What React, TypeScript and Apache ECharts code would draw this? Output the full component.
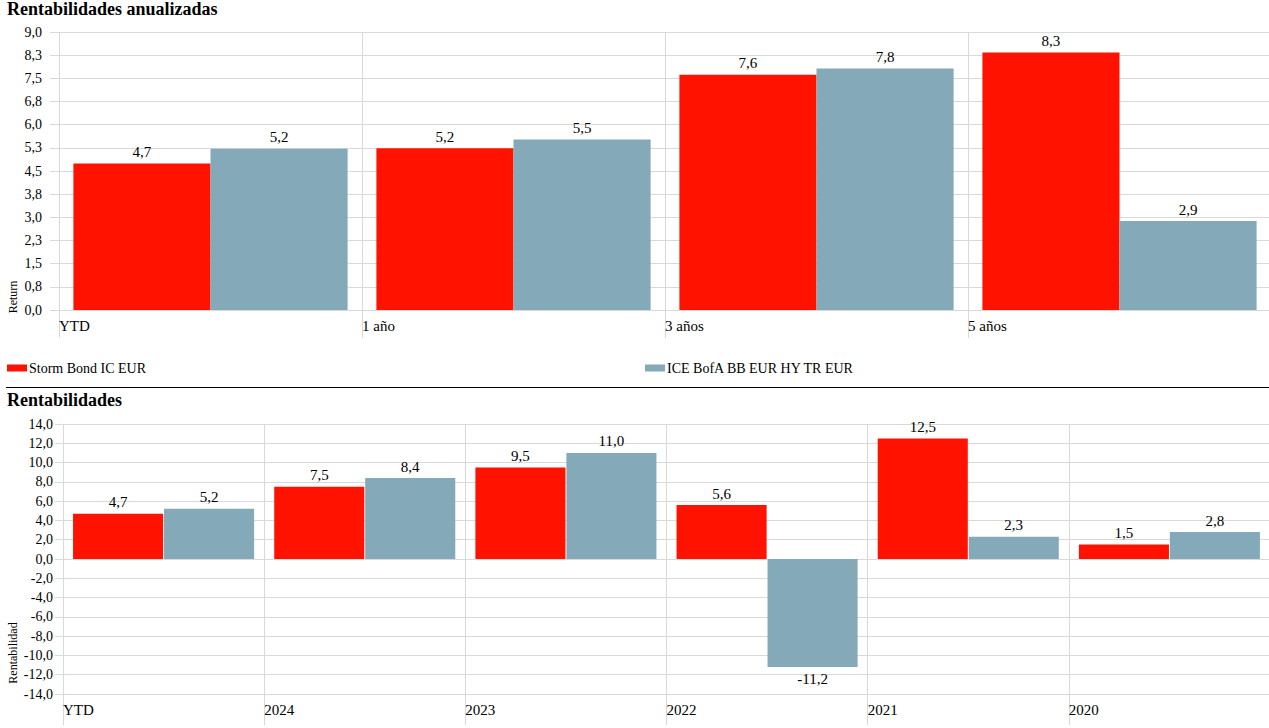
import React, { useEffect, useRef } from 'react';
import * as echarts from 'echarts';

const periodCategories = ['YTD', '1 año', '3 años', '5 años'];
const periodFund = [4.74, 5.24, 7.62, 8.34];
const periodIndex = [5.22, 5.52, 7.82, 2.88];

const yearCategories = ['YTD', '2024', '2023', '2022', '2021', '2020'];
const yearFund = [4.7, 7.5, 9.5, 5.6, 12.5, 1.5];
const yearIndex = [5.2, 8.4, 11.0, -11.2, 2.3, 2.8];

const seriesNames = ['Storm Bond IC EUR', 'ICE BofA BB EUR HY TR EUR'];
const titles = ['Rentabilidades anualizadas', 'Rentabilidades'];
const axisNames = ['Return', 'Rentabilidad'];

const FONT = '"Liberation Serif", "DejaVu Serif", serif';
const RED = '#ff1300';
const BLUE = '#84aaba';
const GRID = '#d9d9d9';

const fmt = (v: number) => v.toFixed(1).replace('.', ',');

export default function App() {
  const ref = useRef<HTMLDivElement>(null);

  useEffect(() => {
    if (!ref.current) return;
    const chart = echarts.init(ref.current, null, { renderer: 'svg' });

    const labelAxis = (gridIndex: number, cats: string[], tickLen: number) => ({
      type: 'category',
      gridIndex,
      data: [...cats, ''],
      boundaryGap: false,
      position: 'bottom',
      axisLine: { show: false },
      axisTick: { show: true, length: tickLen, lineStyle: { color: GRID } },
      axisLabel: {
        interval: 0,
        align: 'left',
        margin: 8,
        fontSize: 15,
        color: '#000',
        fontFamily: FONT,
      },
      splitLine: { show: true, lineStyle: { color: GRID } },
    });

    const barLabel = {
      show: true,
      position: 'outside',
      distance: 4,
      fontSize: 15,
      color: '#000',
      fontFamily: FONT,
      formatter: (p: any) => fmt(p.value),
    };

    const legendText = { fontSize: 14, color: '#000', fontFamily: FONT, padding: [0, 0, 0, -3] };

    chart.setOption({
      animation: false,
      textStyle: { fontFamily: FONT },
      title: [
        {
          text: titles[0],
          left: 7,
          top: 0,
          padding: 0,
          textStyle: { fontSize: 18, fontWeight: 'bold', color: '#000', fontFamily: FONT },
        },
        {
          text: titles[1],
          left: 7,
          top: 391,
          padding: 0,
          textStyle: { fontSize: 18, fontWeight: 'bold', color: '#000', fontFamily: FONT },
        },
      ],
      legend: [
        {
          data: [seriesNames[0]],
          left: 7,
          top: 361,
          padding: 0,
          icon: 'rect',
          itemWidth: 20,
          itemHeight: 7,
          itemGap: 3,
          textStyle: legendText,
        },
        {
          data: [seriesNames[1]],
          left: 645,
          top: 361,
          padding: 0,
          icon: 'rect',
          itemWidth: 20,
          itemHeight: 7,
          itemGap: 3,
          textStyle: legendText,
        },
      ],
      grid: [
        { left: 59, top: 32, width: 1212, height: 278, outerBoundsMode: 'none' },
        { left: 63, top: 424, width: 1207, height: 270, outerBoundsMode: 'none' },
      ],
      xAxis: [
        { type: 'category', gridIndex: 0, data: periodCategories, show: false },
        labelAxis(0, periodCategories, 28),
        { type: 'category', gridIndex: 1, data: yearCategories, show: false },
        labelAxis(1, yearCategories, 31),
      ],
      yAxis: [
        {
          type: 'value',
          gridIndex: 0,
          min: 0,
          max: 9,
          interval: 0.75,
          axisLine: { show: false },
          axisTick: { show: true, length: 9, lineStyle: { color: GRID } },
          axisLabel: { margin: 17, fontSize: 14, color: '#000', fontFamily: FONT, formatter: fmt },
          splitLine: { show: true, lineStyle: { color: GRID } },
        },
        {
          type: 'value',
          gridIndex: 1,
          min: -14,
          max: 14,
          interval: 2,
          axisLine: { show: false },
          axisTick: { show: true, length: 8, lineStyle: { color: GRID } },
          axisLabel: { margin: 10, fontSize: 14, color: '#000', fontFamily: FONT, formatter: fmt },
          splitLine: { show: true, lineStyle: { color: GRID } },
        },
      ],
      series: [
        {
          name: seriesNames[0],
          type: 'bar',
          xAxisIndex: 0,
          yAxisIndex: 0,
          data: periodFund,
          itemStyle: { color: RED },
          barGap: '0%',
          barCategoryGap: '9.5%',
          label: barLabel,
        },
        {
          name: seriesNames[1],
          type: 'bar',
          xAxisIndex: 0,
          yAxisIndex: 0,
          data: periodIndex,
          itemStyle: { color: BLUE },
          barGap: '0%',
          barCategoryGap: '9.5%',
          label: barLabel,
        },
        {
          name: seriesNames[0],
          type: 'bar',
          xAxisIndex: 2,
          yAxisIndex: 1,
          data: yearFund,
          itemStyle: { color: RED },
          barGap: '1%',
          barCategoryGap: '10%',
          label: barLabel,
        },
        {
          name: seriesNames[1],
          type: 'bar',
          xAxisIndex: 2,
          yAxisIndex: 1,
          data: yearIndex,
          itemStyle: { color: BLUE },
          barGap: '1%',
          barCategoryGap: '10%',
          label: barLabel,
        },
      ],
      graphic: [
        {
          type: 'line',
          shape: { x1: 6, y1: 387.5, x2: 1269, y2: 387.5 },
          style: { stroke: '#000', lineWidth: 1 },
          silent: true,
        },
        {
          type: 'text',
          x: 13,
          y: 297,
          rotation: Math.PI / 2,
          style: {
            text: axisNames[0],
            fontSize: 12,
            fontFamily: FONT,
            fill: '#000',
            align: 'center',
            verticalAlign: 'middle',
          },
          silent: true,
        },
        {
          type: 'text',
          x: 13,
          y: 653,
          rotation: Math.PI / 2,
          style: {
            text: axisNames[1],
            fontSize: 12,
            fontFamily: FONT,
            fill: '#000',
            align: 'center',
            verticalAlign: 'middle',
          },
          silent: true,
        },
      ],
    });

    return () => chart.dispose();
  }, []);

  return (
    <div
      ref={ref}
      style={{ position: 'absolute', left: 0, top: 0, width: 1269, height: 728 }}
    />
  );
}
